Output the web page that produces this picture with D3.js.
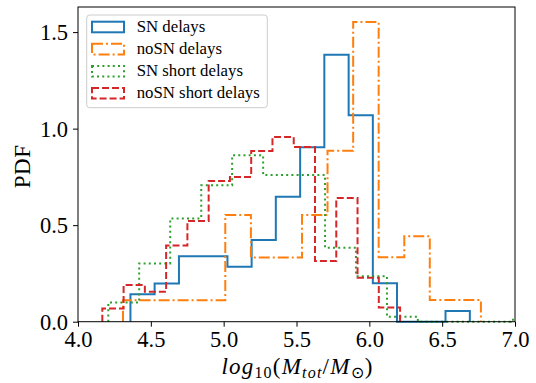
<!DOCTYPE html>
<html><head><meta charset="utf-8">
<script src="https://cdn.jsdelivr.net/npm/d3@7"></script>
<style>body{margin:0;background:#fff}svg{display:block}</style>
</head><body>
<svg id="c" width="536" height="383"></svg>
<script>
// ---- data ----
const seriesNames = ["SN delays", "noSN delays", "SN short delays", "noSN short delays"];
const snEdges = [4.36, 4.526, 4.693, 4.859, 5.026, 5.192, 5.358, 5.525, 5.691, 5.858, 6.024, 6.19, 6.357, 6.523, 6.69];
const snPdf   = [0.142, 0.198, 0.339, 0.339, 0.285, 0.423, 0.647, 0.903, 1.383, 1.069, 0.199, 0, 0, 0.055];
const noSnEdges = [4.309, 4.485, 4.66, 4.836, 5.011, 5.187, 5.362, 5.538, 5.713, 5.889, 6.064, 6.24, 6.415, 6.591, 6.766];
const noSnPdf   = [0.111, 0.111, 0.111, 0.111, 0.553, 0.333, 0.333, 0.553, 0.885, 1.552, 0.334, 0.443, 0.112, 0.112];
const snShortEdges = [4.208, 4.42, 4.633, 4.846, 5.058, 5.271, 5.483, 5.696, 5.908, 6.121, 6.333, 6.546, 6.758, 6.97, 7.183];
const snShortPdf   = [0.099, 0.302, 0.535, 0.707, 0.862, 0.76, 0.76, 0.383, 0.236, 0.026, 0, 0, 0, 0.01];
const noSnShortEdges = [4.167, 4.313, 4.459, 4.605, 4.751, 4.897, 5.043, 5.189, 5.335, 5.481, 5.627, 5.773, 5.919, 6.065, 6.211];
const noSnShortPdf   = [0.069, 0.19, 0.155, 0.395, 0.522, 0.729, 0.75, 0.884, 0.957, 0.905, 0.314, 0.641, 0.228, 0.074];
const xTicks = [4.0, 4.5, 5.0, 5.5, 6.0, 6.5, 7.0];
const yTicks = [0.0, 0.5, 1.0, 1.5];

// ---- layout ----
const L = 78, R = 515, T = 7, B = 321.7;
const FONT = "'Liberation Serif', 'Times New Roman', serif";
const svg = d3.select("#c");
const x = d3.scaleLinear().domain([4, 7]).range([L, R]);
const y = d3.scaleLinear().domain([0, 1.63]).range([B, T]);

const styles = [
  {edges: snEdges, pdf: snPdf, color: "#1f77b4", dash: null},
  {edges: noSnEdges, pdf: noSnPdf, color: "#ff7f0e", dash: "11,3,2,3"},
  {edges: snShortEdges, pdf: snShortPdf, color: "#2ca02c", dash: "2,3.2"},
  {edges: noSnShortEdges, pdf: noSnShortPdf, color: "#d62728", dash: "7,3"}
];

svg.append("defs").append("clipPath").attr("id", "clip")
  .append("rect").attr("x", L).attr("y", T).attr("width", R - L).attr("height", B - T + 2);

const line = d3.line().x(d => x(d[0])).y(d => y(d[1])).curve(d3.curveStepAfter);
const g = svg.append("g").attr("clip-path", "url(#clip)");
styles.forEach(s => {
  const pts = [[s.edges[0], 0]];
  s.pdf.forEach((h, i) => pts.push([s.edges[i], h]));
  pts.push([s.edges[s.edges.length - 1], 0]);
  g.append("path").attr("d", line(pts)).attr("fill", "none")
    .attr("stroke", s.color).attr("stroke-width", 2)
    .attr("stroke-dasharray", s.dash).attr("stroke-linejoin", "miter");
});

// axes
const xa = svg.append("g").attr("transform", `translate(0,${B})`)
  .call(d3.axisBottom(x).tickValues(xTicks).tickFormat(d3.format(".1f")).tickSize(5).tickPadding(4));
const ya = svg.append("g").attr("transform", `translate(${L},0)`)
  .call(d3.axisLeft(y).tickValues(yTicks).tickFormat(d3.format(".1f")).tickSize(5).tickPadding(5));
[xa, ya].forEach(a => {
  a.select(".domain").remove();
  a.selectAll("line").attr("stroke", "#000").attr("stroke-width", 1);
  a.selectAll("text").attr("font-family", FONT).attr("font-size", 22.5).attr("fill", "#000");
});
ya.selectAll("text").attr("dy", "0.34em");
svg.append("rect").attr("x", L).attr("y", T).attr("width", R - L).attr("height", B - T)
  .attr("fill", "none").attr("stroke", "#000").attr("stroke-width", 1);

// axis labels
svg.append("text").attr("transform", `translate(30,${(T + B) / 2 + 2}) rotate(-90)`)
  .attr("text-anchor", "middle").attr("font-family", FONT).attr("font-size", 23)
  .attr("letter-spacing", 0.5).text("PDF");
const xl = svg.append("text").attr("x", (L + R) / 2 + 1).attr("y", 374).attr("text-anchor", "middle")
  .attr("font-family", FONT).attr("font-size", 23).attr("letter-spacing", 1.2);
xl.append("tspan").attr("font-style", "italic").text("log");
xl.append("tspan").attr("font-size", 16).attr("dy", 4).text("10");
xl.append("tspan").attr("dy", -4).text("(");
xl.append("tspan").attr("font-style", "italic").text("M");
xl.append("tspan").attr("font-style", "italic").attr("font-size", 16).attr("dy", 4).text("tot");
xl.append("tspan").attr("dy", -4).text("/");
xl.append("tspan").attr("font-style", "italic").text("M");
xl.append("tspan").attr("font-size", 16).attr("dy", 4).text("\u2299");
xl.append("tspan").attr("dy", -4).text(")");

// legend
const lg = svg.append("g");
lg.append("rect").attr("x", 86.7).attr("y", 15).attr("width", 180.6).attr("height", 92.7).attr("rx", 3)
  .attr("fill", "#fff").attr("fill-opacity", 0.8).attr("stroke", "#cccccc").attr("stroke-width", 1);
const rowY = [27, 49.1, 71.2, 93.3];
styles.forEach((s, i) => {
  lg.append("rect").attr("x", 92).attr("y", rowY[i] - 5.3).attr("width", 32).attr("height", 10.6)
    .attr("fill", "none").attr("stroke", s.color).attr("stroke-width", 2).attr("stroke-dasharray", s.dash);
  lg.append("text").attr("x", 136.7).attr("y", rowY[i] + 5).attr("font-family", FONT)
    .attr("font-size", 16.8).attr("fill", "#000").text(seriesNames[i]);
});
</script>
</body></html>
